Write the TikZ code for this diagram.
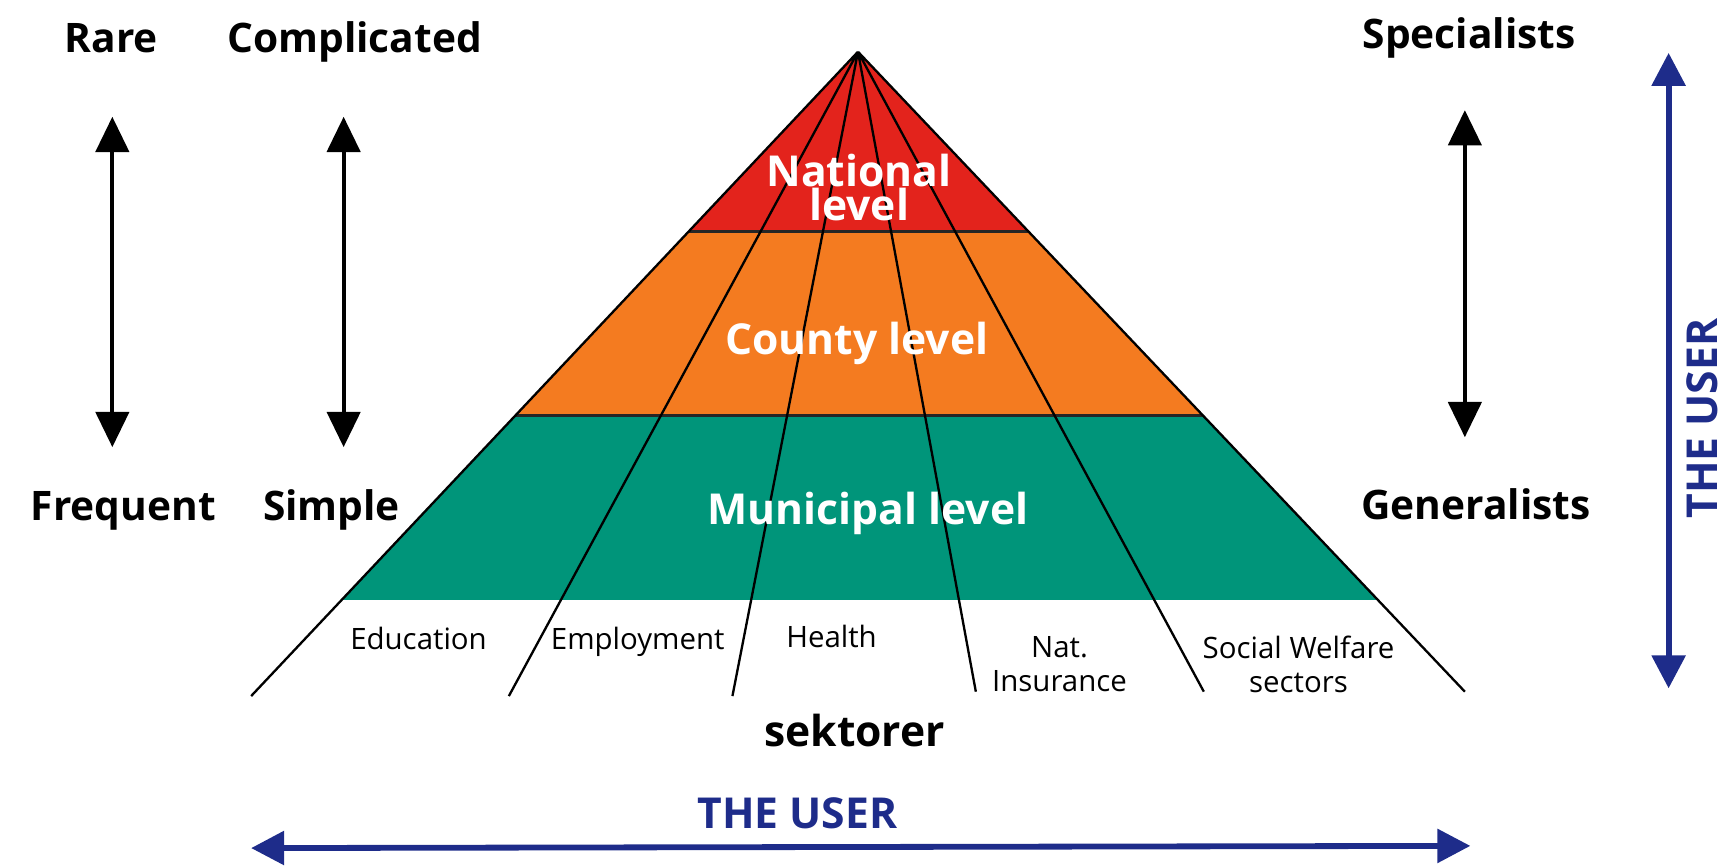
\documentclass[tikz,border=0pt]{standalone}
\usepackage{fontspec}
\setmainfont{Open Sans}
\usepackage{tikz}
\usetikzlibrary{arrows.meta}
\definecolor{lvl_red}{HTML}{E3231C}
\definecolor{lvl_orange}{HTML}{F47B20}
\definecolor{lvl_green}{HTML}{00957A}
\definecolor{user_blue}{HTML}{1E2C8A}
\tikzstyle{label_side} = [font=\fontsize{10.5}{12}\selectfont\bfseries, inner sep=0pt, anchor=base]
\tikzstyle{label_level} = [font=\fontsize{11}{8.8}\selectfont\bfseries, text=white, align=center, inner sep=0pt]
\tikzstyle{label_sector} = [font=\fontsize{7.6}{8.8}\selectfont, align=center, inner sep=0pt]
\tikzstyle{label_user} = [font=\fontsize{11}{12}\selectfont\bfseries, text=user_blue, inner sep=0pt]
\tikzstyle{edge_sector} = [line width=0.6pt]
\tikzstyle{edge_band} = [line width=0.7pt, black!85]
\tikzstyle{arrow_scale} = [line width=1.1pt, {Triangle[width=3mm,length=3.2mm]}-{Triangle[width=3mm,length=3.2mm]}]
\tikzstyle{arrow_user} = [line width=1.5pt, user_blue, {Triangle[width=3mm,length=3mm]}-{Triangle[width=3mm,length=3mm]}]

\begin{document}
\begin{tikzpicture}[x=0.01cm, y=-0.01cm]
			\useasboundingbox (0,0) rectangle (1568,788);
			\coordinate (apex) at (779,47);
			\coordinate (base_l) at (228,632);
			\coordinate (base_r) at (1330,628);
			\coordinate (sec_a) at (462,632);
			\coordinate (sec_b) at (665,632);
			\coordinate (sec_c) at (886,628);
			\coordinate (sec_d) at (1093,628);
			\begin{scope}
				\clip (apex) -- (base_l) -- (base_r) -- cycle;
				\fill[lvl_red] (200,40) rectangle (1400,210);
				\fill[lvl_orange] (200,210) rectangle (1400,377);
				\fill[lvl_green] (200,377) rectangle (1400,545);
				\draw[edge_band] (200,210) -- (1400,210) (200,377) -- (1400,377);
			\end{scope}
			\draw[edge_sector] (apex)--(base_l) (apex)--(sec_a) (apex)--(sec_b) (apex)--(sec_c) (apex)--(sec_d) (apex)--(base_r);
			\node (national) at (780,170) [label_level] {National\\level};
			\node (county) at (778,322) [label_level, anchor=base] {County level};
			\node (municipal) at (788,476) [label_level, anchor=base] {Municipal level};
			\node (education) at (380,590) [label_sector, anchor=base] {Education};
			\node (employment) at (579,590) [label_sector, anchor=base] {Employment};
			\node (health) at (755,588) [label_sector, anchor=base] {Health};
			\node (insurance) at (962,603) [label_sector] {Nat.\\Insurance};
			\node (welfare) at (1179,603) [label_sector] {Social Welfare\\sectors};
			\node (sektorer) at (776,678) [label_side, font=\fontsize{11}{12}\selectfont\bfseries] {sektorer};
			\node (rare) at (101,48) [label_side] {Rare};
			\node (complicated) at (322,48) [label_side] {Complicated};
			\node (frequent) at (112,473) [label_side] {Frequent};
			\node (simple) at (301,473) [label_side] {Simple};
			\node (specialists) at (1334,44) [label_side] {Specialists};
			\node (generalists) at (1340,472) [label_side] {Generalists};
			\coordinate (rare_end) at (102,106);
			\coordinate (frequent_end) at (102,406);
			\coordinate (complicated_end) at (312,106);
			\coordinate (simple_end) at (312,406);
			\coordinate (specialists_end) at (1330,100);
			\coordinate (generalists_end) at (1330,397);
			\draw[arrow_scale] (rare_end)--(frequent_end);
			\draw[arrow_scale] (complicated_end)--(simple_end);
			\draw[arrow_scale] (specialists_end)--(generalists_end);
			\node (user_h) at (724,752) [label_user, anchor=base] {THE USER};
			\node (user_v) at (1546,380) [label_user, rotate=90] {THE USER};
			\coordinate (user_l) at (228,770);
			\coordinate (user_r) at (1335,768);
			\coordinate (user_t) at (1515,48);
			\coordinate (user_b) at (1515,625);
			\draw[arrow_user] (user_l)--(user_r);
			\draw[arrow_user] (user_t)--(user_b);
		\end{tikzpicture}
\end{document}
